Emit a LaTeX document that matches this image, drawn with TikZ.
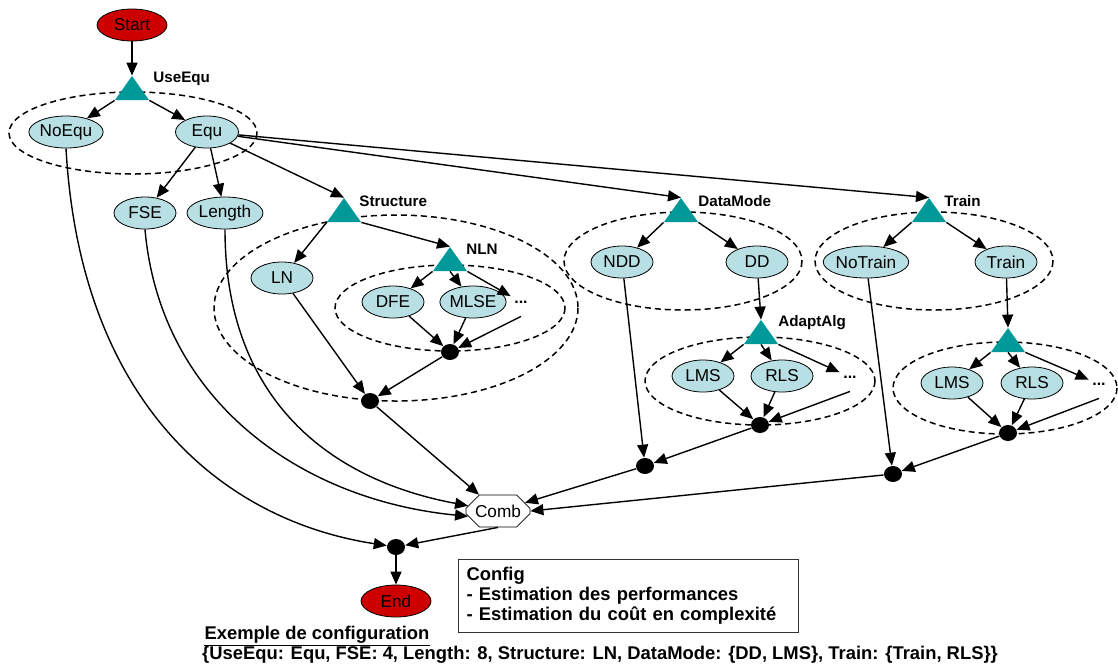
\documentclass[tikz,border=0pt]{standalone}
\usepackage{fontspec}
\setmainfont{Liberation Sans}
\usetikzlibrary{shapes.geometric,shapes.misc,arrows.meta}
\definecolor{stopred}{HTML}{CC0000}
\definecolor{optblue}{HTML}{B8DFE3}
\definecolor{decteal}{HTML}{009999}
\begin{document}
\begin{tikzpicture}[x=0.5pt,y=-0.5pt,>={Triangle[length=6.5pt,width=5.5pt]}]
  \tikzset{
    optnode/.style={ellipse,draw,line width=0.4pt,fill=optblue,minimum width=31pt,minimum height=16pt,inner sep=0pt,font=\fontsize{8.6}{9}\selectfont},
    termnode/.style={optnode,fill=stopred,minimum width=35pt},
    decnode/.style={rectangle,minimum width=17pt,minimum height=12pt,inner sep=0pt,
      path picture={\fill[decteal] (path picture bounding box.south west) -- (path picture bounding box.south east) -- (path picture bounding box.north) -- cycle;}},
    declabel/.style={anchor=west,inner sep=0pt,font=\bfseries\fontsize{7.6}{9}\selectfont},
    joinnode/.style={ellipse,fill=black,minimum width=9pt,minimum height=8pt,inner sep=0pt},
    moredots/.style={minimum width=10pt,minimum height=14pt,inner sep=0pt,font=\bfseries\fontsize{8}{9}\selectfont},
    grpline/.style={line width=0.75pt,dash pattern=on 3pt off 2pt},
    arr/.style={->,line width=0.7pt},
  }
  \useasboundingbox (0,0) rectangle (1118,666);

  % dashed groups first, so the triangles sit on top
  \draw[grpline] (133,133) ellipse [x radius=124, y radius=41];
  \draw[grpline] (396,308) ellipse [x radius=182, y radius=93];
  \draw[grpline] (450,308) ellipse [x radius=115, y radius=43];
  \draw[grpline] (683,261) ellipse [x radius=119, y radius=49];
  \draw[grpline] (760,381) ellipse [x radius=115, y radius=44];
  \draw[grpline] (934,261) ellipse [x radius=119, y radius=49];
  \draw[grpline] (1005,388) ellipse [x radius=112, y radius=46];

  % ==================== UseEqu ====================
  \node[termnode] (start) at (132,25) {Start};
  \node[decnode] (tUse) at (132,88) {};
  \node[declabel] (lUse) at (153,79) {UseEqu};
  \node[optnode,minimum width=35pt] (noequ) at (66,132) {NoEqu};
  \node[optnode,minimum width=31.5pt] (equ) at (207,132) {Equ};
  \node[optnode] (fse) at (145,213) {FSE};
  \node[optnode,minimum width=38pt] (length) at (225,213) {Length};

  \draw[arr] (start) -- (tUse.north);
  \draw[arr] (tUse.south west) -- (noequ);
  \draw[arr] (tUse.south east) -- (equ);
  \draw[arr] (equ) -- (fse);
  \draw[arr] (equ) -- (length);

  % ==================== Structure ====================
  \node[decnode] (tStruct) at (344,210) {};
  \node[declabel] (lStruct) at (359,201) {Structure};
  \node[optnode] (ln) at (282,278) {LN};
  \node[decnode] (tNln) at (450,259) {};
  \node[declabel] (lNln) at (466,249) {NLN};
  \node[optnode] (dfe) at (393,302) {DFE};
  \node[optnode] (mlse) at (473,302) {MLSE};
  \node[moredots] (dotsA) at (521,302) {...};
  \node[joinnode] (nlnDot) at (450,352) {};
  \node[joinnode] (lnDot) at (370,401) {};

  \draw[arr] (equ) -- (tStruct.north);
  \draw[arr] (tStruct.south west) -- (ln);
  \draw[arr] (tStruct.south east) -- (tNln.north);
  \draw[arr] (tNln.south west) -- (dfe);
  \draw[arr] (tNln.south) -- (mlse);
  \draw[arr] (tNln.south east) -- (dotsA);
  \draw[arr] (dfe) -- (nlnDot);
  \draw[arr] (mlse) -- (nlnDot);
  \draw[arr] (dotsA.south) -- (nlnDot);
  \draw[arr] (ln) -- (lnDot);
  \draw[arr] (nlnDot) -- (lnDot);

  % ==================== DataMode ====================
  \node[decnode] (tData) at (681,210) {};
  \node[declabel] (lData) at (698,201) {DataMode};
  \node[optnode] (ndd) at (622,262) {NDD};
  \node[optnode] (dd) at (757,262) {DD};
  \node[decnode] (tAdapt) at (761,332) {};
  \node[declabel] (lAdapt) at (778,323) {AdaptAlg};
  \node[optnode] (lmsA) at (703,376) {LMS};
  \node[optnode] (rlsA) at (782,376) {RLS};
  \node[moredots] (dotsB) at (850,377) {...};
  \node[joinnode] (adDot) at (760,425) {};
  \node[joinnode] (dmDot) at (645,466) {};

  \draw[arr] (equ) -- (tData.north);
  \draw[arr] (tData.south west) -- (ndd);
  \draw[arr] (tData.south east) -- (dd);
  \draw[arr] (dd) -- (tAdapt.north);
  \draw[arr] (tAdapt.south west) -- (lmsA);
  \draw[arr] (tAdapt.south) -- (rlsA);
  \draw[arr] (tAdapt.south east) -- (dotsB);
  \draw[arr] (lmsA) -- (adDot);
  \draw[arr] (rlsA) -- (adDot);
  \draw[arr] (dotsB.south) -- (adDot);
  \draw[arr] (ndd) -- (dmDot);
  \draw[arr] (adDot) -- (dmDot);

  % ==================== Train ====================
  \node[decnode] (tTrain) at (929,210) {};
  \node[declabel] (lTrain) at (944,201) {Train};
  \node[optnode,minimum width=39pt] (notrain) at (866,262) {NoTrain};
  \node[optnode] (train) at (1006,262) {Train};
  \node[decnode] (tAlg) at (1008,340) {};
  \node[optnode] (lmsB) at (952,383) {LMS};
  \node[optnode] (rlsB) at (1032,383) {RLS};
  \node[moredots] (dotsC) at (1099,384) {...};
  \node[joinnode] (algDot) at (1008,433) {};
  \node[joinnode] (trDot) at (893,474) {};

  \draw[arr] (equ) -- (tTrain.north);
  \draw[arr] (tTrain.south west) -- (notrain);
  \draw[arr] (tTrain.south east) -- (train);
  \draw[arr] (train) -- (tAlg.north);
  \draw[arr] (tAlg.south west) -- (lmsB);
  \draw[arr] (tAlg.south) -- (rlsB);
  \draw[arr] (tAlg.south east) -- (dotsC);
  \draw[arr] (lmsB) -- (algDot);
  \draw[arr] (rlsB) -- (algDot);
  \draw[arr] (dotsC.south) -- (algDot);
  \draw[arr] (notrain) -- (trDot);
  \draw[arr] (algDot) -- (trDot);

  % ==================== Comb / End ====================
  \node[chamfered rectangle,draw,line width=0.4pt,fill=white,minimum width=32pt,minimum height=16pt,
        chamfered rectangle xsep=4pt,inner sep=0pt,font=\fontsize{8.6}{9}\selectfont] (comb) at (498,511) {Comb};
  \node[joinnode] (endDot) at (396,547) {};
  \node[termnode] (end) at (396,601) {End};

  \draw[arr] (lnDot) -- (comb);
  \draw[arr] (length.south) .. controls (225,400) and (330,480) .. (comb.170);
  \draw[arr] (fse.south) .. controls (160,400) and (300,500) .. (comb.190);
  \draw[arr] (noequ.south) .. controls (80,400) and (220,520) .. (endDot);
  \draw[arr] (dmDot) -- (comb);
  \draw[arr] (trDot) -- (comb.east);
  \draw[arr] (comb.south) -- (endDot);
  \draw[arr] (endDot) -- (end);

  % ==================== Config ====================
  \node[draw=black!80,line width=0.5pt,anchor=north west,text width=162pt,align=left,inner sep=4pt,
        minimum height=33pt,font=\bfseries\fontsize{9.2}{10}\selectfont] (config) at (458,559)
        {Config\\- Estimation des performances\\- Estimation du coût en complexité};
  \node[inner sep=0pt,font=\bfseries\fontsize{9.2}{10}\selectfont] (exTitle) at (317,635) {Exemple de configuration};
  \draw[line width=0.6pt] ([yshift=-0.6pt]exTitle.south west) -- ([yshift=-0.6pt]exTitle.south east);
  \node[font=\bfseries\fontsize{9.2}{10}\selectfont] (exLine) at (600,655)
        {\{UseEqu: Equ, FSE: 4, Length: 8, Structure: LN, DataMode: \{DD, LMS\}, Train: \{Train, RLS\}\}};
\end{tikzpicture}
\end{document}
